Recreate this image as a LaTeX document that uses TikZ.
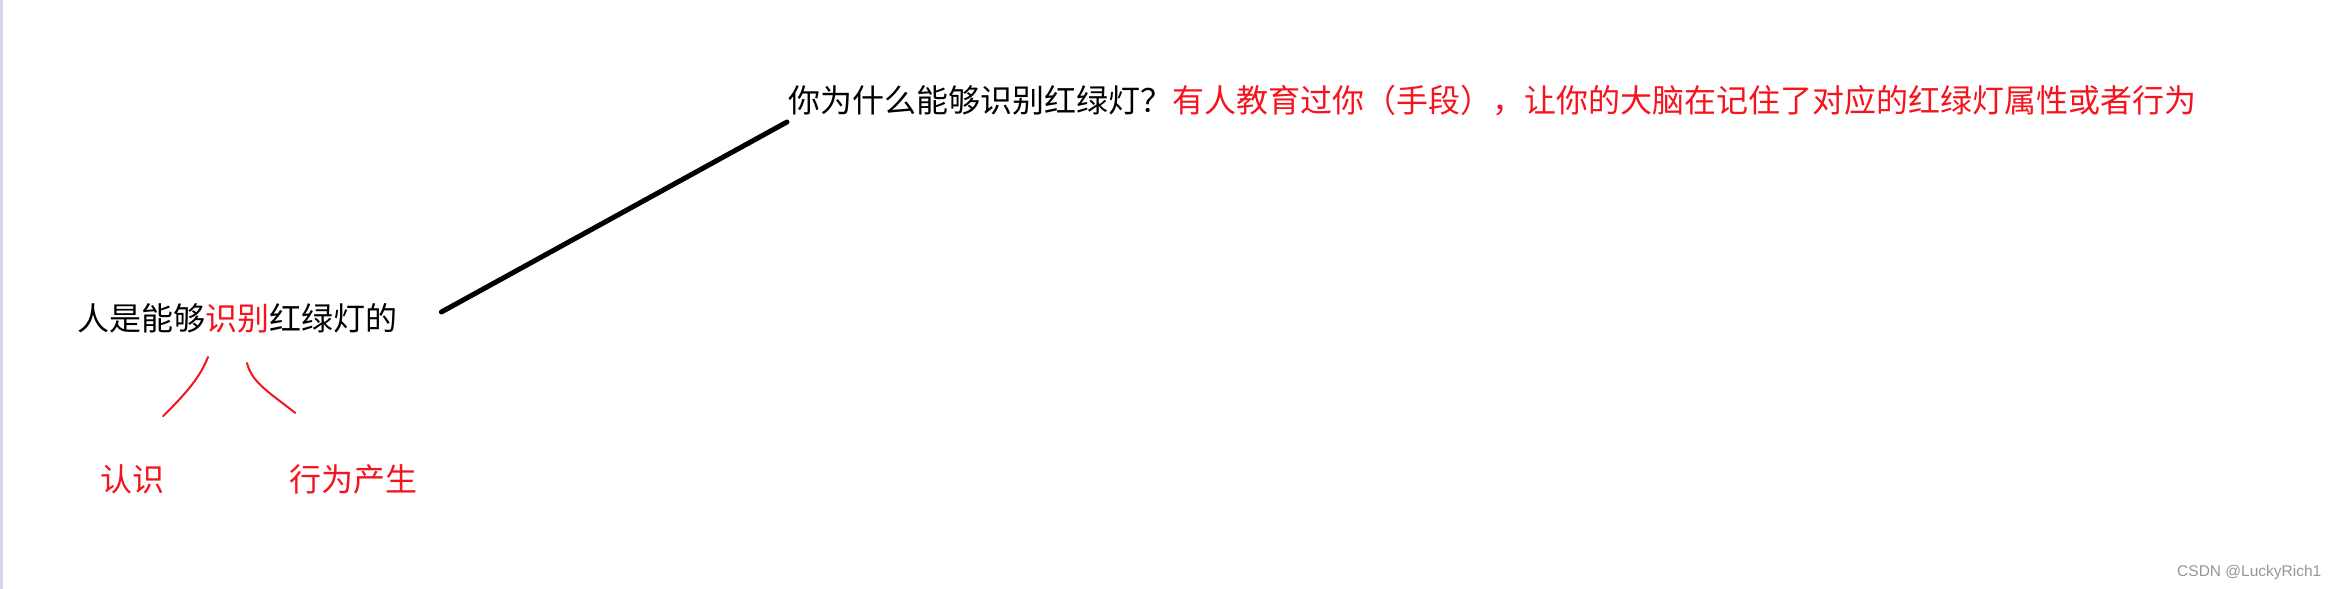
\documentclass[tikz,border=0pt]{standalone}
\usepackage{fontspec}
\newfontfamily\cjk{Noto Sans CJK SC}
\newfontfamily\wmfont{Liberation Sans}
\usetikzlibrary{calc}
\definecolor{inkred}{RGB}{245,20,30}
\definecolor{edgeblue}{RGB}{208,216,232}
\definecolor{wmgrey}{RGB}{150,150,150}
\tikzset{
  cjktext/.style={inner sep=0pt, anchor=west, font=\cjk\fontsize{32}{38}\selectfont},
  redtext/.style={cjktext, text=inkred},
  bigline/.style={line width=5pt, line cap=round, black},
  redcurve/.style={line width=2pt, inkred, line cap=round},
  watermark/.style={inner sep=0pt, anchor=west, text=wmgrey, font=\wmfont\fontsize{15.5}{18}\selectfont}
}
\begin{document}
\begin{tikzpicture}[x=1pt,y=-1pt]
\fill[white] (0,0) rectangle (2332,589);
\useasboundingbox (0,0) rectangle (2332,589);
\fill[edgeblue] (0,0) rectangle (3,589);
% texts
\node[cjktext] (top) at (788,101) {你为什么能够识别红绿灯？\textcolor{inkred}{有人教育过你（手段），让你的大脑在记住了对应的红绿灯属性或者行为}};
\node[cjktext] (bot) at (77,318) {人是能够\textcolor{inkred}{识别}红绿灯的};
\node[redtext] (know) at (100,479) {认识};
\node[redtext] (act) at (289,479) {行为产生};
\node[watermark] (wm) at (2177,572) {CSDN @LuckyRich1};
% connector
\coordinate (lineA) at ($(bot.east)+(44,-6)$);
\coordinate (lineB) at ($(top.west)+(-1,21)$);
\draw[bigline] (lineA) -- (lineB);
% red strokes
\coordinate (lt) at ($(bot.west)+(131,39)$);
\coordinate (lb) at ($(know.north)+(31,-48)$);
\coordinate (rt) at ($(bot.west)+(170,45)$);
\coordinate (rb) at ($(act.north)+(-58,-51)$);
\draw[redcurve] (lt) .. controls ($(lt)+(-8,20)$) and ($(lb)+(25,-25)$) .. (lb);
\draw[redcurve] (rt) .. controls ($(rt)+(5,20)$) and ($(rb)+(-25,-20)$) .. (rb);
\end{tikzpicture}
\end{document}
